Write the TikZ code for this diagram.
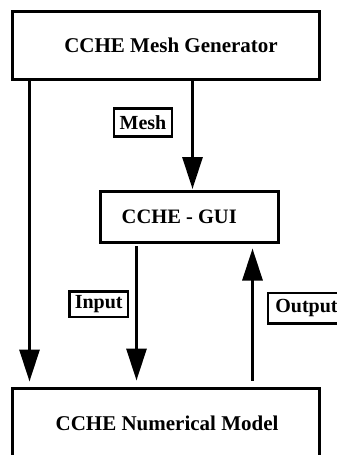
\documentclass[tikz,border=0pt]{standalone}
\usepackage{fontspec}
\setmainfont{Liberation Serif}
\usetikzlibrary{arrows.meta}
\begin{document}
\begin{tikzpicture}[x=1pt,y=-1pt,
  bigbox/.style={draw=black,line width=3pt,inner sep=0pt,minimum width=307pt,font=\bfseries\fontsize{21}{25}\selectfont},
  guibox/.style={draw=black,line width=3pt,inner sep=0pt,font=\bfseries\fontsize{20.5}{24}\selectfont},
  tagbox/.style={draw=black,line width=2.5pt,inner sep=0pt,font=\bfseries\fontsize{20}{24}\selectfont},
  arr/.style={line width=3pt,-{Triangle[length=32pt,width=20pt]}}]
\useasboundingbox (0,0) rectangle (337,455);
\clip (0,0) rectangle (337,455);
\fill[white] (0,0) rectangle (337,455);
\node[bigbox,minimum height=68pt] (mesh) at (166,45.5) {CCHE Mesh Generator\hspace*{-10pt}};
\node[guibox,minimum width=177.5pt,minimum height=51pt] (gui) at (189.25,217) {\hspace*{-20pt}CCHE - GUI};
\node[bigbox,minimum height=70pt] (model) at (166,423) {CCHE Numerical Model\hspace*{-2pt}};
\node[tagbox,minimum width=58pt,minimum height=28pt] (tmesh) at (143,122.5) {Mesh};
\node[tagbox,minimum width=58.5pt,minimum height=25.5pt] (tinput) at (98.75,304.25) {Input};
\node[tagbox,minimum width=72pt,minimum height=30.5pt] (toutput) at (304,308.25) {Output\hspace*{-5pt}};
\draw[arr,shorten >=5pt] ([xshift=18.5pt]mesh.south west) -- ([xshift=18.5pt]model.north west);
\draw[arr,shorten >=1pt] ([xshift=181.5pt]mesh.south west) -- ([xshift=93.5pt]gui.north west);
\draw[arr,shorten <=2pt,shorten >=6pt] ([xshift=37.5pt]gui.south west) -- ([xshift=125.5pt]model.north west);
\draw[arr,shorten <=6pt,shorten >=4.5pt] ([xshift=241.5pt]model.north west) -- ([xshift=153.5pt]gui.south west);
\end{tikzpicture}
\end{document}
